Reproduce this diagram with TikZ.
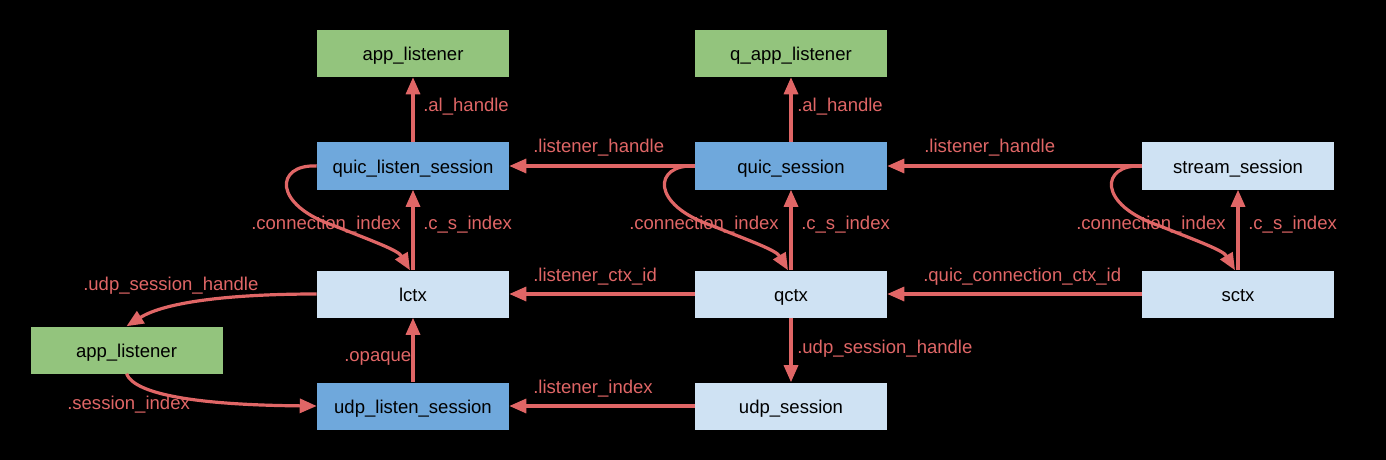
\documentclass[tikz,border=0pt]{standalone}
\usepackage{fontspec}
\setmainfont{Liberation Sans}
\usetikzlibrary{arrows.meta}
\definecolor{boxgreen}{HTML}{93C47D}
\definecolor{boxblue}{HTML}{6FA8DC}
\definecolor{boxlight}{HTML}{CFE2F3}
\definecolor{edgered}{HTML}{E06666}
\begin{document}
\begin{tikzpicture}[x=0.75pt,y=-0.75pt,
  box/.style={minimum width=144pt, minimum height=35.25pt, inner sep=0pt,
    text height=12.75pt, text depth=2.25pt, font=\fontsize{13.9}{16}\selectfont, text=black},
  greenbox/.style={box, fill=boxgreen},
  bluebox/.style={box, fill=boxblue},
  lightbox/.style={box, fill=boxlight},
  edge/.style={draw=edgered, line width=2.4pt, -{Triangle[length=12.75pt,width=10.5pt]}},
  lbl/.style={anchor=base west, inner sep=0pt, text=edgered, font=\fontsize{13.9}{16}\selectfont}]
\fill[black] (0,0) rectangle (1386,460);
\useasboundingbox (0,0) rectangle (1386,460);

\node[greenbox] (al1) at (413,53.5) {app\_listener};
\node[greenbox] (al2) at (791,53.5) {q\_app\_listener};
\node[bluebox] (qls) at (413,166) {quic\_listen\_session};
\node[bluebox] (qs) at (791,166) {quic\_session};
\node[lightbox] (ss) at (1238,166) {stream\_session};
\node[lightbox] (lctx) at (413,294) {lctx};
\node[lightbox] (qctx) at (791,294) {qctx};
\node[lightbox] (sctx) at (1238,294) {sctx};
\node[greenbox] (al3) at (126.5,350) {app\_listener};
\node[bluebox] (uls) at (413,406) {udp\_listen\_session};
\node[lightbox] (us) at (791,406) {udp\_session};

\draw[edge] (qls.north) -- (al1.south);
\draw[edge] (qs.north) -- (al2.south);
\draw[edge] (qs.west) -- (qls.east);
\draw[edge] (ss.west) -- (qs.east);
\draw[edge] (lctx.north) -- (qls.south);
\draw[edge] (qctx.north) -- (qs.south);
\draw[edge] (sctx.north) -- (ss.south);
\draw[edge] (qctx.west) -- (lctx.east);
\draw[edge] (sctx.west) -- (qctx.east);
\draw[edge] (qctx.south) -- (us.north);
\draw[edge] (us.west) -- (uls.east);
\draw[edge] (uls.north) -- (lctx.south);

\draw[edge] (qls.west) .. controls (275,164) and (272,205) .. (335,226)
  .. controls (372,241) and (398,250) .. ([xshift=-2.25pt]lctx.north);
\draw[edge] (qs.west) .. controls (653,164) and (650,205) .. (713,226)
  .. controls (750,241) and (776,250) .. ([xshift=-2.25pt]qctx.north);
\draw[edge] (ss.west) .. controls (1100,164) and (1097,205) .. (1160,226)
  .. controls (1197,241) and (1223,250) .. ([xshift=-2.25pt]sctx.north);
\draw[edge] (lctx.west) .. controls (230,294) and (165,302) .. (al3.north);
\draw[edge] (al3.south) .. controls (135,395) and (200,405) .. (uls.west);

\node[lbl] (l1) at (423,112) {.al\_handle};
\node[lbl] (l2) at (797,112) {.al\_handle};
\node[lbl] (l3) at (533,152) {.listener\_handle};
\node[lbl] (l4) at (924,152) {.listener\_handle};
\node[lbl] (l5) at (251,229) {.connection\_index};
\node[lbl] (l6) at (423,229) {.c\_s\_index};
\node[lbl] (l7) at (629,229) {.connection\_index};
\node[lbl] (l8) at (801,229) {.c\_s\_index};
\node[lbl] (l9) at (1076,229) {.connection\_index};
\node[lbl] (l10) at (1248,229) {.c\_s\_index};
\node[lbl] (l11) at (533,281) {.listener\_ctx\_id};
\node[lbl] (l12) at (923,281) {.quic\_connection\_ctx\_id};
\node[lbl] (l13) at (83,290) {.udp\_session\_handle};
\node[lbl] (l14) at (797,353) {.udp\_session\_handle};
\node[lbl] (l15) at (344,361) {.opaque};
\node[lbl] (l16) at (533,393) {.listener\_index};
\node[lbl] (l17) at (67,409) {.session\_index};
\end{tikzpicture}
\end{document}
